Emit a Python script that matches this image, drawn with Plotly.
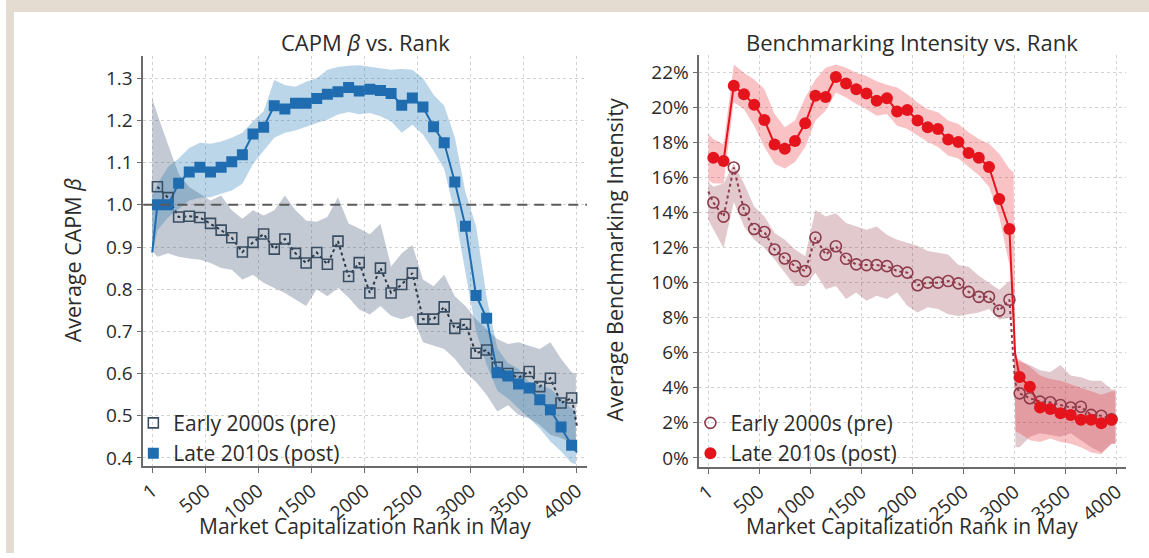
import plotly.graph_objects as go

# ---------------- data ----------------
rank_bins = [50, 150, 250, 350, 450, 550, 650, 750, 850, 950,
             1050, 1150, 1250, 1350, 1450, 1550, 1650, 1750, 1850, 1950,
             2050, 2150, 2250, 2350, 2450, 2550, 2650, 2750, 2850, 2950,
             3050, 3150, 3250, 3350, 3450, 3550, 3650, 3750, 3850, 3950]

beta_pre = [1.043, 1.017, 0.971, 0.973, 0.970, 0.956, 0.940, 0.922, 0.888, 0.911,
            0.931, 0.895, 0.919, 0.885, 0.862, 0.887, 0.859, 0.914, 0.830, 0.863,
            0.791, 0.850, 0.791, 0.811, 0.838, 0.729, 0.729, 0.758, 0.707, 0.717,
            0.648, 0.656, 0.615, 0.600, 0.590, 0.605, 0.569, 0.589, 0.530, 0.542]
beta_post = [1.000, 1.000, 1.051, 1.078, 1.089, 1.078, 1.089, 1.102, 1.119, 1.168,
             1.184, 1.235, 1.227, 1.241, 1.241, 1.252, 1.262, 1.268, 1.278, 1.270,
             1.274, 1.271, 1.264, 1.236, 1.253, 1.232, 1.185, 1.147, 1.054, 0.949,
             0.785, 0.731, 0.602, 0.594, 0.575, 0.566, 0.538, 0.514, 0.473, 0.430]
# line-only end points (no marker)
beta_pre_extra_rank = [4000]
beta_pre_extra = [0.475]
beta_post_extra_rank = [1, 4000]
beta_post_extra = [0.887, 0.413]

bench_pre = [14.57, 13.77, 16.57, 14.15, 13.06, 12.89, 11.89, 11.38, 10.94, 10.66,
             12.58, 11.60, 12.08, 11.36, 11.04, 11.00, 11.00, 10.94, 10.66, 10.57,
             9.85, 10.00, 10.00, 10.09, 9.96, 9.47, 9.19, 9.19, 8.40, 9.02,
             3.68, 3.40, 3.21, 3.17, 3.02, 2.87, 2.92, 2.45, 2.40, 2.20]
bench_post = [17.13, 16.94, 21.23, 20.75, 20.15, 19.28, 17.89, 17.64, 18.08, 19.09,
              20.66, 20.60, 21.74, 21.36, 21.04, 20.79, 20.38, 20.53, 19.77, 19.85,
              19.25, 18.87, 18.77, 18.17, 18.02, 17.40, 17.13, 16.60, 14.77, 13.06,
              4.62, 4.06, 2.87, 2.79, 2.55, 2.45, 2.17, 2.17, 1.98, 2.17]
bench_pre_extra_rank = [1, 3005]
bench_pre_extra = [15.2, 4.3]
bench_post_extra_rank = [3005]
bench_post_extra = [6.0]

# confidence bands
beta_band_rank = [1] + rank_bins + [3990]
beta_post_hi = [1.02, 1.05, 1.09, 1.11, 1.135, 1.147, 1.145, 1.15, 1.159, 1.171, 1.198,
                1.222, 1.296, 1.284, 1.28, 1.292, 1.30, 1.32, 1.327, 1.33, 1.331,
                1.327, 1.323, 1.32, 1.322, 1.32, 1.30, 1.261, 1.235, 1.16, 1.03,
                0.95, 0.78, 0.66, 0.625, 0.611, 0.58, 0.572, 0.564, 0.541, 0.517, 0.51]
beta_post_lo = [0.88, 0.94, 0.97, 0.99, 1.01, 1.017, 1.018, 1.026, 1.034, 1.05, 1.097,
                1.128, 1.159, 1.171, 1.176, 1.185, 1.194, 1.202, 1.214, 1.22, 1.215,
                1.218, 1.21, 1.198, 1.171, 1.19, 1.167, 1.128, 1.085, 0.98, 0.84,
                0.70, 0.62, 0.56, 0.541, 0.517, 0.494, 0.47, 0.439, 0.416, 0.388, 0.385]
beta_pre_hi = [1.253, 1.214, 1.143, 1.073, 1.042, 1.026, 1.01, 1.022, 0.987, 0.967, 0.987,
               0.975, 0.987, 1.022, 0.987, 0.963, 0.96, 0.971, 1.018, 0.956, 0.944,
               0.93, 0.955, 0.854, 0.885, 0.905, 0.823, 0.807, 0.834, 0.783, 0.76,
               0.729, 0.705, 0.682, 0.67, 0.674, 0.666, 0.658, 0.674, 0.635, 0.603, 0.60]
beta_pre_lo = [0.89, 0.877, 0.885, 0.877, 0.873, 0.87, 0.862, 0.85, 0.846, 0.823, 0.834,
               0.815, 0.803, 0.791, 0.776, 0.76, 0.80, 0.783, 0.803, 0.78, 0.752,
               0.74, 0.76, 0.737, 0.729, 0.737, 0.674, 0.666, 0.658, 0.635, 0.603,
               0.58, 0.549, 0.51, 0.525, 0.502, 0.494, 0.478, 0.455, 0.447, 0.435, 0.43]

bench_band_rank = [1] + rank_bins[:30] + [2990, 3010] + rank_bins[30:] + [3990]
bench_post_hi = [18.49, 18.2, 17.9, 22.45, 21.98, 21.6, 21.04, 19.62, 18.87, 19.25, 20.57,
                 21.6, 22.26, 22.45, 22.26, 21.98, 21.79, 21.5, 21.3, 21.13, 20.75,
                 20.28, 19.9, 19.72, 19.25, 19.06, 18.58, 18.2, 17.92, 17.36, 16.5,
                 16.3, 5.7,
                 5.6, 5.2, 4.7, 4.5, 4.4, 4.2, 4.0, 3.8, 3.6, 3.8, 3.8]
bench_post_lo = [15.85, 15.66, 15.66, 20.3, 19.9, 18.96, 17.74, 16.79, 16.51, 16.89, 17.74,
                 19.25, 19.81, 20.85, 20.57, 20.19, 19.9, 19.53, 19.62, 18.96, 18.77,
                 18.4, 18.02, 17.74, 17.26, 17.08, 16.6, 16.13, 15.47, 13.77, 11.0,
                 8.0, 1.5,
                 1.4, 1.0, 0.9, 1.1, 0.9, 0.8, 0.6, 0.3, 0.2, 0.8, 0.8]
bench_pre_hi = [15.75, 15.47, 15.66, 16.79, 15.66, 14.34, 13.77, 12.83, 12.45, 11.89, 11.51,
                14.15, 13.77, 13.96, 13.4, 13.2, 13.02, 13.2, 12.74, 12.45, 12.26,
                12.1, 11.8, 11.7, 11.6, 11.0, 10.9, 10.4, 10.0, 9.6, 10.1,
                10.0, 5.5,
                5.5, 5.3, 5.0, 4.9, 5.3, 4.7, 4.6, 4.4, 4.4, 3.9, 3.9]
bench_pre_lo = [13.58, 13.02, 11.98, 14.6, 13.2, 12.45, 11.98, 11.32, 10.57, 9.81, 9.81,
                10.57, 9.62, 9.81, 9.06, 9.43, 8.96, 9.25, 9.06, 9.43, 8.68,
                8.3, 8.6, 8.5, 8.2, 8.1, 8.2, 8.3, 8.5, 7.9, 8.0,
                8.0, 0.6,
                0.6, 1.2, 1.4, 1.3, 1.2, 1.4, 1.0, 0.6, 0.3, 0.8, 0.8]

x_tick_vals = [1, 500, 1000, 1500, 2000, 2500, 3000, 3500, 4000]
x_tick_text = ["1", "500", "1000", "1500", "2000", "2500", "3000", "3500", "4000"]
beta_ticks = [0.4, 0.5, 0.6, 0.7, 0.8, 0.9, 1.0, 1.1, 1.2, 1.3]
beta_tick_text = ["0.4", "0.5", "0.6", "0.7", "0.8", "0.9", "1.0", "1.1", "1.2", "1.3"]
bench_ticks = [0, 2, 4, 6, 8, 10, 12, 14, 16, 18, 20, 22]
bench_tick_text = ["0%", "2%", "4%", "6%", "8%", "10%", "12%", "14%", "16%", "18%", "20%", "22%"]
BETA_BASELINE = 1.0

# ---------------- styling ----------------
FONT = "Open Sans"
TXT = "#2b2b2b"
W, H = 1149, 558
BLUE = "#1f6db0"
SLATE = "#3a4e63"
RED = "#e5141c"
MAROON = "#8e3b4b"
BEIGE = "#e4dcd0"


def merged(xs, ys, exs, eys):
    pts = sorted(list(zip(xs, ys)) + list(zip(exs, eys)))
    return [p[0] for p in pts], [p[1] for p in pts]


fig = go.Figure()


def band(xs, hi, lo, color, xa, ya):
    fig.add_trace(go.Scatter(x=xs + xs[::-1], y=hi + lo[::-1], fill="toself",
                             fillcolor=color, line=dict(width=0), mode="lines",
                             hoverinfo="skip", showlegend=False, xaxis=xa, yaxis=ya))


# left panel
band(beta_band_rank, beta_pre_hi, beta_pre_lo, "rgba(60,80,110,0.30)", "x", "y")
band(beta_band_rank, beta_post_hi, beta_post_lo, "rgba(31,119,180,0.30)", "x", "y")
lx, ly = merged(rank_bins, beta_pre, beta_pre_extra_rank, beta_pre_extra)
fig.add_trace(go.Scatter(x=lx, y=ly, mode="lines", line=dict(color="#2b3a4a", width=2, dash="dot"),
                         showlegend=False, xaxis="x", yaxis="y"))
lx, ly = merged(rank_bins, beta_post, beta_post_extra_rank, beta_post_extra)
fig.add_trace(go.Scatter(x=lx, y=ly, mode="lines", line=dict(color=BLUE, width=2),
                         showlegend=False, xaxis="x", yaxis="y"))
fig.add_trace(go.Scatter(x=rank_bins, y=beta_pre, mode="markers", name="Early 2000s (pre)",
                         marker=dict(symbol="square-open", size=10, color=SLATE, line=dict(width=1.6, color=SLATE)),
                         xaxis="x", yaxis="y", legend="legend"))
fig.add_trace(go.Scatter(x=rank_bins, y=beta_post, mode="markers", name="Late 2010s (post)",
                         marker=dict(symbol="square", size=11, color=BLUE),
                         xaxis="x", yaxis="y", legend="legend"))

# right panel
band(bench_band_rank, bench_pre_hi, bench_pre_lo, "rgba(140,45,65,0.26)", "x2", "y2")
band(bench_band_rank, bench_post_hi, bench_post_lo, "rgba(235,40,50,0.28)", "x2", "y2")
lx, ly = merged(rank_bins, bench_pre, bench_pre_extra_rank, bench_pre_extra)
fig.add_trace(go.Scatter(x=lx, y=ly, mode="lines", line=dict(color=MAROON, width=2, dash="dot"),
                         showlegend=False, xaxis="x2", yaxis="y2"))
lx, ly = merged(rank_bins, bench_post, bench_post_extra_rank, bench_post_extra)
fig.add_trace(go.Scatter(x=lx, y=ly, mode="lines", line=dict(color=RED, width=2),
                         showlegend=False, xaxis="x2", yaxis="y2"))
fig.add_trace(go.Scatter(x=rank_bins, y=bench_pre, mode="markers", name="Early 2000s (pre)",
                         marker=dict(symbol="circle-open", size=11, color=MAROON, line=dict(width=1.6, color=MAROON)),
                         xaxis="x2", yaxis="y2", legend="legend2"))
fig.add_trace(go.Scatter(x=rank_bins, y=bench_post, mode="markers", name="Late 2010s (post)",
                         marker=dict(symbol="circle", size=12, color=RED),
                         xaxis="x2", yaxis="y2", legend="legend2"))

axis_common = dict(showline=True, linecolor="#6b6b6b", linewidth=1.5, ticks="outside",
                   ticklen=5, tickwidth=1.2, tickcolor="#6b6b6b", showgrid=True,
                   gridcolor="#d2d2d2", griddash="dot", gridwidth=1, zeroline=False,
                   tickfont=dict(family=FONT, size=19, color=TXT), mirror=False)

legend_common = dict(xanchor="left", yanchor="bottom", bgcolor="rgba(255,255,255,0)",
                     borderwidth=0, font=dict(family=FONT, size=21, color=TXT),
                     tracegroupgap=0, itemwidth=30)


def ann(text, x, y, angle=0, size=22):
    return dict(text=text, x=x / W, y=(H - y) / H, xref="paper", yref="paper",
                xanchor="center", yanchor="middle", showarrow=False, textangle=angle,
                font=dict(family=FONT, size=size, color=TXT))


fig.update_layout(
    width=W, height=H,
    margin=dict(l=0, r=0, t=0, b=0),
    paper_bgcolor="white",
    plot_bgcolor="white",
    font=dict(family=FONT, color=TXT),
    xaxis=dict(domain=[138 / W, 584 / W], range=[-83, 4094], tickvals=x_tick_vals,
               ticktext=x_tick_text, tickangle=-40, anchor="y", **axis_common),
    yaxis=dict(domain=[(H - 470) / H, (H - 57) / H], range=[0.3813, 1.3517],
               tickvals=beta_ticks, ticktext=beta_tick_text, anchor="x", **axis_common),
    xaxis2=dict(domain=[697 / W, 1126 / W], range=[-87, 4093], tickvals=x_tick_vals,
                ticktext=x_tick_text, tickangle=-40, anchor="y2", **axis_common),
    yaxis2=dict(domain=[(H - 471) / H, (H - 55) / H], range=[-0.51, 23.02],
                tickvals=bench_ticks, ticktext=bench_tick_text, anchor="x2", **axis_common),
    legend=dict(x=128 / W, y=(H - 478) / H, **legend_common),
    legend2=dict(x=688 / W, y=(H - 478) / H, **legend_common),
    shapes=[
        # beige frame strips (top and left)
        dict(type="rect", xref="paper", yref="paper", x0=0, x1=1, y0=(H - 12) / H, y1=1,
             fillcolor=BEIGE, line=dict(width=0), layer="below"),
        dict(type="rect", xref="paper", yref="paper", x0=0, x1=8 / W, y0=0, y1=1,
             fillcolor=BEIGE, line=dict(width=0), layer="below"),
        dict(type="line", xref="x domain", yref="y", x0=0, x1=1, y0=BETA_BASELINE, y1=BETA_BASELINE,
             line=dict(color="#5a5a5a", width=2, dash="10px,7px"), layer="above"),
    ],
    annotations=[
        ann("CAPM <i>β</i> vs. Rank", 361, 42),
        ann("Benchmarking Intensity vs. Rank", 911, 42),
        ann("Market Capitalization Rank in May", 361, 531, size=21),
        ann("Market Capitalization Rank in May", 911, 531, size=21),
        ann("Average CAPM <i>β</i>", 67, 263, angle=-90, size=21.5),
        ann("Average Benchmarking Intensity", 612, 262, angle=-90, size=21.5),
    ],
)

fig.write_html("out.html")
